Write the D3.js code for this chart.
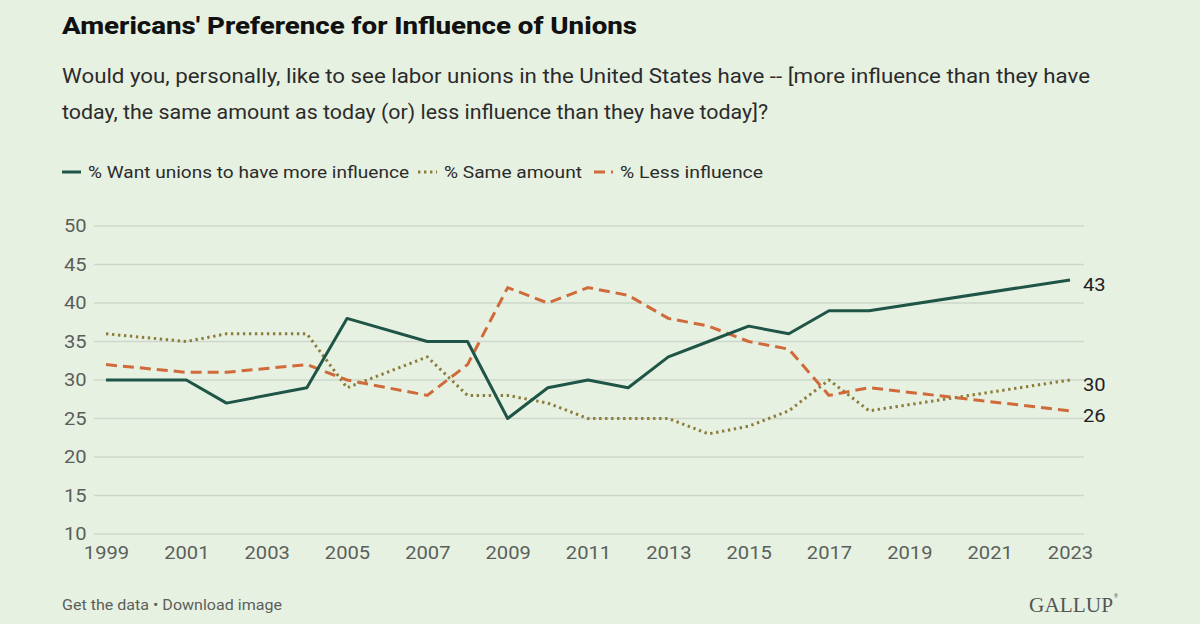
<!DOCTYPE html>
<html>
<head>
<meta charset="utf-8">
<script src="https://cdn.jsdelivr.net/npm/d3@7"></script>
<style>
  html, body { margin: 0; padding: 0; background: #e7f1e2; }
  svg { display: block; }
  text { font-family: Roboto, "Liberation Sans", sans-serif; }
</style>
</head>
<body>
<svg id="chart" width="1200" height="624"></svg>
<script>
const years = [1999, 2001, 2002, 2004, 2005, 2007, 2008, 2009, 2010, 2011, 2012, 2013, 2014, 2015, 2016, 2017, 2018, 2023];
const moreInfluence = [30, 30, 27, 29, 38, 35, 35, 25, 29, 30, 29, 33, 35, 37, 36, 39, 39, 43];
const sameAmount    = [36, 35, 36, 36, 29, 33, 28, 28, 27, 25, 25, 25, 23, 24, 26, 30, 26, 30];
const lessInfluence = [32, 31, 31, 32, 30, 28, 32, 42, 40, 42, 41, 38, 37, 35, 34, 28, 29, 26];
const yTicks = [10, 15, 20, 25, 30, 35, 40, 45, 50];
const xTicks = [1999, 2001, 2003, 2005, 2007, 2009, 2011, 2013, 2015, 2017, 2019, 2021, 2023];
const seriesNames = ["% Want unions to have more influence", "% Same amount", "% Less influence"];

const title = "Americans' Preference for Influence of Unions";
const subtitle = [
  "Would you, personally, like to see labor unions in the United States have -- [more influence than they have",
  "today, the same amount as today (or) less influence than they have today]?"
];

const colors = ["#1e5547", "#8c7d3a", "#d06a3a"];
const dashes = [null, "2.4,3.6", "11,6"];
const STRETCH = 1.12;

const svg = d3.select("#chart");
svg.append("rect").attr("width", 1200).attr("height", 624).attr("fill", "#e7f1e2");

const x = d3.scaleLinear().domain([1999, 2023]).range([106, 1070]);
const y = d3.scaleLinear().domain([10, 50]).range([534, 226]);

function fit(sel, w) {
  return sel.attr("textLength", w).attr("lengthAdjust", "spacingAndGlyphs");
}

// Title & subtitle
fit(svg.append("text").attr("x", 62).attr("y", 34)
  .attr("font-size", 23).attr("font-weight", 700).attr("fill", "#111")
  .style("font-weight", 800)
  .text(title), 575);
const subW = [1028, 706];
subtitle.forEach((s, i) => {
  fit(svg.append("text").attr("x", 62).attr("y", 83 + i * 36)
    .attr("font-size", 20).attr("fill", "#2b2b2b")
    .text(s), subW[i]);
});

// Gridlines
const grid = svg.append("g");
grid.selectAll("line").data(yTicks).join("line")
  .attr("x1", 94).attr("x2", 1084)
  .attr("y1", d => y(d)).attr("y2", d => y(d))
  .attr("stroke", "#cdd6ca").attr("stroke-width", 1.3);

// Y axis labels
const yAxis = svg.append("g").attr("transform", "translate(64,0)")
  .call(d3.axisLeft(y).tickValues(yTicks).tickSize(0).tickPadding(0));
yAxis.select(".domain").remove();
yAxis.selectAll("text").attr("text-anchor", "start").attr("x", 0)
  .attr("font-size", 18).attr("fill", "#5b5f5b")
  .attr("transform", `scale(${STRETCH},1)`);

// X axis labels
const xAxis = svg.append("g").attr("transform", "translate(0,545)")
  .call(d3.axisBottom(x).tickValues(xTicks).tickFormat(d3.format("d")).tickSize(0).tickPadding(0));
xAxis.select(".domain").remove();
xAxis.selectAll("text").attr("font-size", 18).attr("fill", "#5b5f5b")
  .attr("dy", "0.75em")
  .attr("transform", `scale(${STRETCH},1)`);

// Lines
const seriesData = [moreInfluence, sameAmount, lessInfluence];
const line = d3.line().x((d, i) => x(years[i])).y(d => y(d));
[1, 2, 0].forEach(k => {
  svg.append("path").datum(seriesData[k])
    .attr("d", line)
    .attr("fill", "none")
    .attr("stroke", colors[k])
    .attr("stroke-width", 3)
    .attr("stroke-linejoin", "round")
    .attr("stroke-dasharray", dashes[k]);
});

// End labels
seriesData.forEach((s, k) => {
  const v = s[s.length - 1];
  svg.append("g").attr("transform", `translate(1083,${y(v) + 5})`)
    .append("text").attr("dy", "0.35em")
    .attr("font-size", 18).attr("fill", "#222")
    .attr("transform", `scale(${STRETCH},1)`).text(v);
});

// Legend
const legendX = [62, 418, 594];
const legendW = [321, 138, 143];
const legend = svg.append("g");
seriesNames.forEach((n, k) => {
  legend.append("line").attr("x1", legendX[k]).attr("x2", legendX[k] + 19)
    .attr("y1", 172).attr("y2", 172)
    .attr("stroke", colors[k]).attr("stroke-width", 3)
    .attr("stroke-dasharray", dashes[k]);
  fit(legend.append("text").attr("x", legendX[k] + 26).attr("y", 178)
    .attr("font-size", 17).attr("fill", "#2b2b2b").text(n), legendW[k]);
});

// Footer
fit(svg.append("text").attr("x", 62).attr("y", 610)
  .attr("font-size", 15).attr("fill", "#5b5f5b")
  .text("Get the data \u2022 Download image"), 220);
fit(svg.append("text").attr("x", 1029).attr("y", 612)
  .attr("font-size", 21).attr("fill", "#555")
  .style("font-family", "'Liberation Serif', 'DejaVu Serif', serif")
  .text("GALLUP"), 84);
svg.append("text").attr("x", 1114).attr("y", 598)
  .attr("font-size", 5).attr("fill", "#555").text("\u00AE");
</script>
</body>
</html>
